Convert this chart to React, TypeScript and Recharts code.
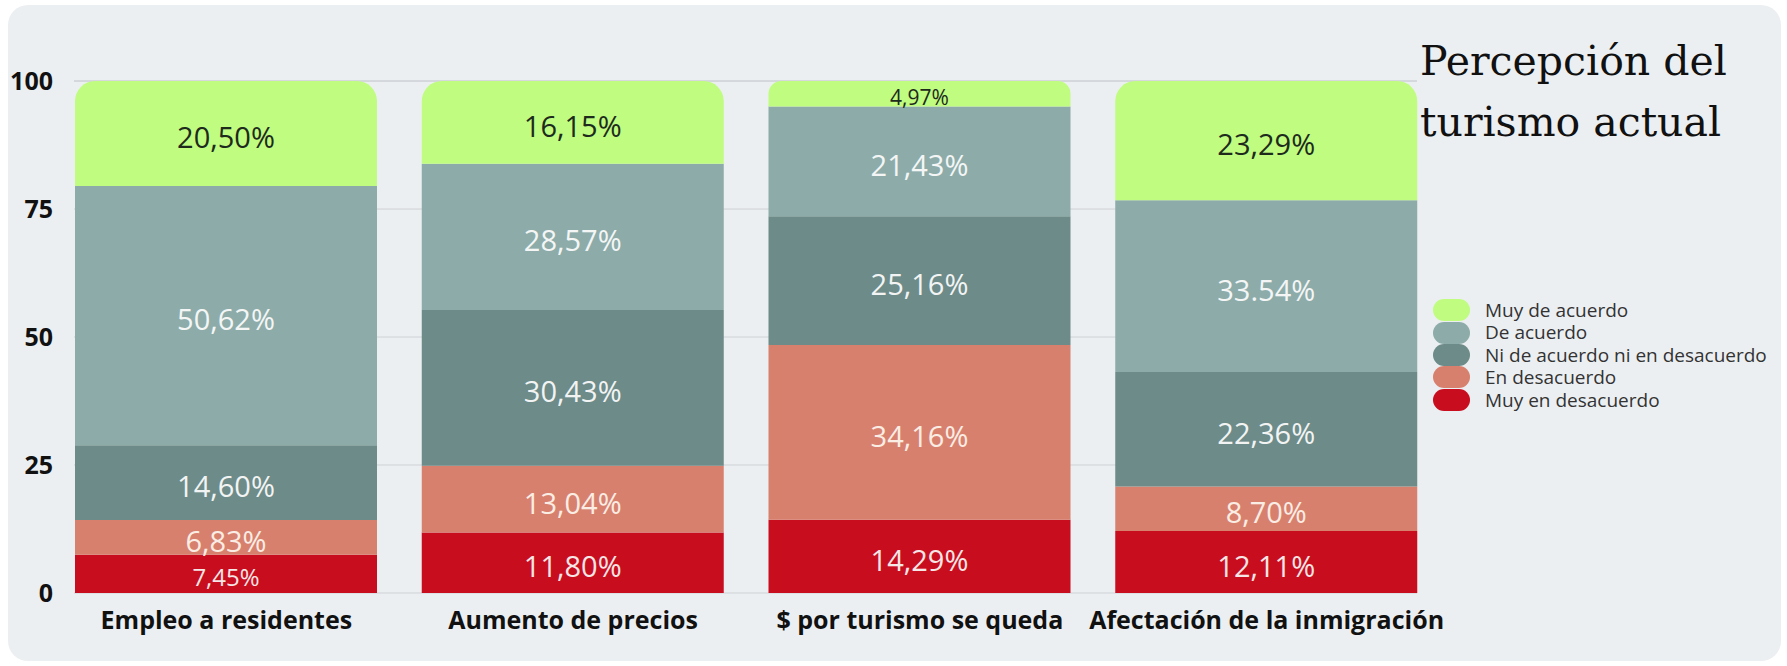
import { BarChart, Bar, XAxis, YAxis, CartesianGrid, LabelList } from 'recharts';

const categories = [
  'Empleo a residentes',
  'Aumento de precios',
  '$ por turismo se queda',
  'Afectación de la inmigración',
];

// stack order: bottom -> top
const muyEnDesacuerdo = [7.45, 11.8, 14.29, 12.11];
const enDesacuerdo = [6.83, 13.04, 34.16, 8.7];
const niNi = [14.6, 30.43, 25.16, 22.36];
const deAcuerdo = [50.62, 28.57, 21.43, 33.54];
const muyDeAcuerdo = [20.5, 16.15, 4.97, 23.29];

// labels as printed on the original (one uses a dot)
const muyEnDesacuerdoLabels = ['7,45%', '11,80%', '14,29%', '12,11%'];
const enDesacuerdoLabels = ['6,83%', '13,04%', '34,16%', '8,70%'];
const niNiLabels = ['14,60%', '30,43%', '25,16%', '22,36%'];
const deAcuerdoLabels = ['50,62%', '28,57%', '21,43%', '33.54%'];
const muyDeAcuerdoLabels = ['20,50%', '16,15%', '4,97%', '23,29%'];

const yTicks = [0, 25, 50, 75, 100];

const series = [
  { key: 'muyEnDesacuerdo', name: 'Muy en desacuerdo', color: '#C80D1F', text: '#F6E6E6' },
  { key: 'enDesacuerdo', name: 'En desacuerdo', color: '#D8806E', text: '#FAEDE4' },
  { key: 'niNi', name: 'Ni de acuerdo ni en desacuerdo', color: '#6D8B88', text: '#F2F4F4' },
  { key: 'deAcuerdo', name: 'De acuerdo', color: '#8DACA9', text: '#F4F6F6' },
  { key: 'muyDeAcuerdo', name: 'Muy de acuerdo', color: '#BFFC80', text: '#1D2A1C' },
];

const data = categories.map((name, i) => ({
  name,
  muyEnDesacuerdo: muyEnDesacuerdo[i],
  enDesacuerdo: enDesacuerdo[i],
  niNi: niNi[i],
  deAcuerdo: deAcuerdo[i],
  muyDeAcuerdo: muyDeAcuerdo[i],
  muyEnDesacuerdoLabel: muyEnDesacuerdoLabels[i],
  enDesacuerdoLabel: enDesacuerdoLabels[i],
  niNiLabel: niNiLabels[i],
  deAcuerdoLabel: deAcuerdoLabels[i],
  muyDeAcuerdoLabel: muyDeAcuerdoLabels[i],
}));

const FONT = '"Open Sans", "Noto Sans", sans-serif';

function makeLabel(color: string) {
  return (props: any) => {
    const { x, y, width, height, value } = props;
    let size = 29;
    if (height < 30) size = 21;
    else if (height < 38.5 && height > 36) size = 24;
    return (
      <text
        x={x + width / 2}
        y={y + height / 2 + 3}
        textAnchor="middle"
        dominantBaseline="central"
        fill={color}
        fontFamily={FONT}
        fontSize={size}
      >
        {value}
      </text>
    );
  };
}

function LegendBox() {
  const items = [...series].reverse();
  return (
    <div style={{ fontFamily: FONT, fontSize: 19, color: '#333', lineHeight: '22.4px' }}>
      {items.map((s) => (
        <div key={s.key} style={{ display: 'flex', alignItems: 'center', height: 22.4 }}>
          <span
            style={{
              display: 'inline-block',
              width: 37,
              height: 22,
              borderRadius: 11,
              background: s.color,
              marginRight: 15,
            }}
          />
          <span style={{ lineHeight: '22.4px' }}>{s.name}</span>
        </div>
      ))}
    </div>
  );
}

export default function App() {
  return (
    <div style={{ position: 'fixed', top: 0, left: 0, width: 1787, height: 666, background: '#fff' }}>
      <div
        style={{
          position: 'absolute',
          left: 8,
          top: 5,
          width: 1773,
          height: 656,
          borderRadius: 20,
          background: '#ECEFF2',
        }}
      />
      <div style={{ position: 'absolute', left: 0, top: 0 }}>
        <BarChart
          width={1787}
          height={666}
          data={data}
          margin={{ top: 81, right: 347, bottom: 43, left: 0 }}
        >
          <CartesianGrid x={74} width={1343} vertical={false} stroke="#CDD1D5" />
          <XAxis
            dataKey="name"
            axisLine={false}
            tickLine={false}
            tickSize={0}
            tickMargin={18}
            height={30}
            interval={0}
            tick={{ fill: '#111', fontSize: 25, fontWeight: 700, fontFamily: FONT }}
          />
          <YAxis
            domain={[0, 100]}
            ticks={yTicks}
            width={53}
            axisLine={false}
            tickLine={false}
            tickSize={0}
            tickMargin={0}
            tick={{ fill: '#111', fontSize: 25, fontWeight: 700, fontFamily: FONT }}
          />
          {series.map((s, idx) => (
            <Bar
              key={s.key}
              dataKey={s.key}
              name={s.name}
              stackId="a"
              fill={s.color}
              barSize={302}
              radius={idx === series.length - 1 ? [20, 20, 0, 0] : 0}
              isAnimationActive={false}
            >
              <LabelList dataKey={s.key + 'Label'} content={makeLabel(s.text)} />
            </Bar>
          ))}
        </BarChart>
      </div>
      <div
        style={{
          position: 'absolute',
          left: 1420,
          top: 31,
          fontFamily: '"DejaVu Serif", "Liberation Serif", serif',
          fontSize: 41,
          lineHeight: '61px',
          color: '#111',
          whiteSpace: 'nowrap',
        }}
      >
        Percepción del
        <br />
        turismo actual
      </div>
      <div style={{ position: 'absolute', left: 1433, top: 299 }}>
        <LegendBox />
      </div>
    </div>
  );
}
